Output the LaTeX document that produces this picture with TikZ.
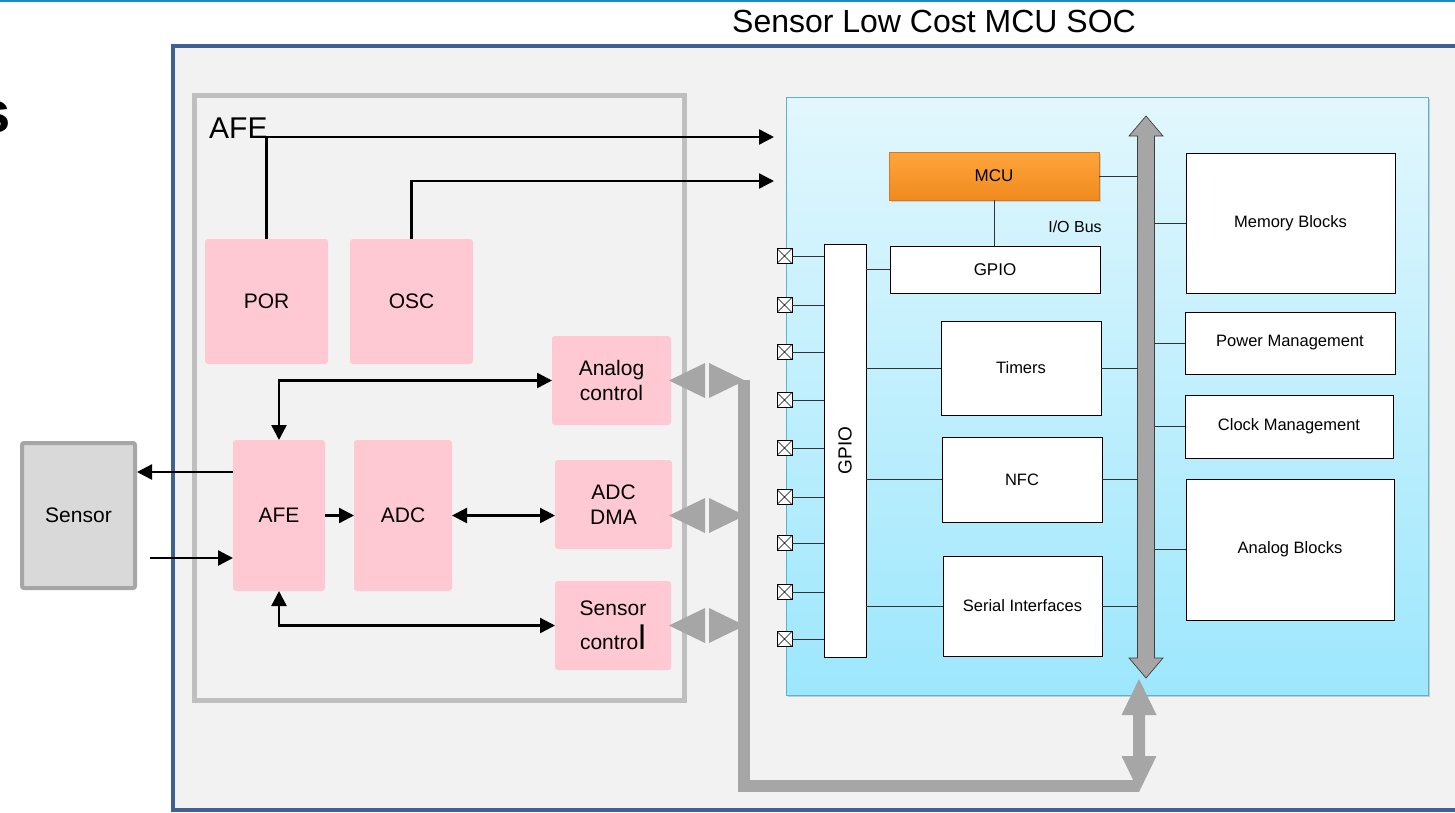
\documentclass[tikz,border=0pt]{standalone}
\usepackage{fontspec}
\setmainfont{Liberation Sans}
\usetikzlibrary{arrows.meta,calc,shadows}

\definecolor{bgfill}{HTML}{F2F2F2}
\definecolor{outerblue}{HTML}{3F6190}
\definecolor{afegray}{HTML}{BFBFBF}
\definecolor{pinkbox}{HTML}{FFC9D3}
\definecolor{sensfill}{HTML}{D9D9D9}
\definecolor{sensdraw}{HTML}{A6A6A6}
\definecolor{busgray}{HTML}{A6A6A6}
\definecolor{busedge}{HTML}{3F3F3F}
\definecolor{paneltop}{HTML}{E2F7FD}
\definecolor{panelbot}{HTML}{9DE7FD}
\definecolor{panelline}{HTML}{5AB4CF}
\definecolor{mcutop}{HTML}{FFA53C}
\definecolor{mcubot}{HTML}{F08A1E}
\definecolor{mcuedge}{HTML}{D9781A}
\definecolor{topline}{HTML}{1A8CC4}
\definecolor{wirecol}{HTML}{333333}

\newcommand\fsz[2]{\fontsize{#1}{#2}\selectfont}

\tikzset{
  pinkblk/.style={fill=pinkbox, rounded corners=3pt, inner sep=0pt, outer sep=0pt,
    align=center, font=\fsz{21}{25}},
  whiteblk/.style={draw=black, line width=0.9pt, fill=white, inner sep=0pt, outer sep=0pt,
    align=center, font=\fsz{16.5}{20}},
  arr/.style={line width=2.4pt, -{Triangle[length=15pt,width=15pt]}},
  arrboth/.style={line width=2.4pt,
    {Triangle[length=15pt,width=15pt]}-{Triangle[length=15pt,width=15pt]}},
  wire/.style={line width=0.9pt, draw=wirecol},
  pad/.style={draw=black, line width=0.8pt, fill=white, minimum size=15pt,
    inner sep=0pt, outer sep=0pt,
    path picture={\draw[line width=0.6pt]
      (path picture bounding box.north west) -- (path picture bounding box.south east)
      (path picture bounding box.south west) -- (path picture bounding box.north east);}},
}

\begin{document}
\begin{tikzpicture}[x=1pt,y=-1pt]
\useasboundingbox (0,0) rectangle (1455,812);
\fill[white] (0,0) rectangle (1455,812);

% header rule and titles
\draw[topline, line width=2pt] (0,1) -- (1455,1);
\node[anchor=base east, inner sep=0pt, font=\fsz{58}{58}\bfseries] (cut) at (11,132) {s};
\node[font=\fsz{32}{32}] (title) at (934,21) {Sensor Low Cost MCU SOC};

% SOC frame
\draw[outerblue, line width=4pt, fill=bgfill] (172.5,45.5) rectangle (1470,809.5);

% analog front end frame
\node[draw=afegray, line width=5pt, fill=bgfill, minimum width=489.5pt, minimum height=604.5pt,
      inner sep=0pt] (afebox) at (439.25,397.75) {};
\node[anchor=base west, inner sep=0pt, font=\fsz{30}{30}] (afelabel) at (209,138) {AFE};

% sensor
\node[draw=sensdraw, fill=sensfill, line width=4pt, rounded corners=2pt,
      minimum width=113pt, minimum height=145pt, inner sep=0pt, font=\fsz{21}{25}]
      (sensor) at (78.5,515.5) {Sensor};

% AFE blocks
\node[pinkblk, minimum width=123pt, minimum height=125pt] (por) at (266.5,301.5) {POR};
\node[pinkblk, minimum width=123pt, minimum height=125pt] (osc) at (411.5,301.5) {OSC};
\node[pinkblk, minimum width=119pt, minimum height=89pt] (actl) at (611.5,380.5) {Analog\\control};
\node[pinkblk, minimum width=92pt, minimum height=151pt] (afe) at (279,515.5) {AFE};
\node[pinkblk, minimum width=98pt, minimum height=151pt] (adc) at (403,515.5) {ADC};
\node[pinkblk, minimum width=117pt, minimum height=89pt] (dma) at (613.5,504.5) {ADC\\DMA};
\node[pinkblk, minimum width=116pt, minimum height=89pt] (sctl) at (613,625.5)
      {Sensor\\[9pt]contro{\fsz{34}{34}l}};

% signal arrows
\coordinate (porout) at (774,137);
\coordinate (oscout) at (774,181);
\draw[arr] (por.north) |- (porout);
\draw[arr] (osc.north) |- (oscout);
\draw[arrboth] (afe.north) |- (actl.west);
\draw[arrboth] (afe.south) |- (sctl.west);
\draw[arr] (afe.east) -- (adc.west);
\draw[arrboth] (adc.east) -- (adc.east -| dma.west);
\draw[arr] ($(afe.west)+(0,-43.5)$) -- ($(sensor.east)+(0,-43.5)$);
\draw[arr] ($(sensor.east)+(13,42.5)$) -- ($(afe.west)+(0,42.5)$);

% MCU subsystem panel
\node[draw=panelline, line width=0.8pt, top color=paneltop, bottom color=panelbot,
      minimum width=642pt, minimum height=598pt, inner sep=0pt,
      drop shadow={shadow xshift=2pt, shadow yshift=-2pt, opacity=0.35}]
      (soc) at (1107,396) {};

% wide system bus to the AFE controls
\coordinate (barTop) at (744,380);
\coordinate (barCorner) at (744,786);
\coordinate (barEnd) at (1139,786);
\draw[busgray, line width=12pt] (barTop) -- (barCorner) -- (barEnd);
\coordinate (gA) at ($(actl.east)+(-2,0)$);
\coordinate (gB) at ($(dma.east |- adc.east)+(-3,0)$);
\coordinate (gC) at ($(sctl.east)+(-2,0)$);
\foreach \c in {gA,gB,gC}{
  \fill[busgray] (\c) -- ++(36,-17.5) -- ++(0,35) -- cycle;
  \fill[busgray] ($(\c)+(40,-17.5)$) -- ++(36,17.5) -- ++(-36,17.5) -- cycle;
}
\coordinate (lowN) at (1139,679);
\coordinate (lowS) at (1139,792);
\fill[busgray] (lowN) -- ++(17.5,36) -- ++(-11.5,0) -- ($(lowS)+(6,-36)$) -- ++(11.5,0)
  -- (lowS) -- ++(-17.5,-36) -- ++(11.5,0) -- ($(lowN)+(-6,36)$) -- ++(-11.5,0) -- cycle;

% internal bus
\coordinate (busN) at (1146,116);
\coordinate (busS) at (1146,678);
\coordinate (busL) at (1137.5,400);
\coordinate (busR) at (1154.5,400);
\filldraw[fill=busgray, draw=busedge, line width=0.7pt]
  (busN) -- ++(17,20) -- ++(-8.5,0) -- ($(busS)+(8.5,-20)$) -- ++(8.5,0) -- (busS)
  -- ++(-17,-20) -- ++(8.5,0) -- ($(busN)+(-8.5,20)$) -- ++(-8.5,0) -- cycle;

% MCU and peripherals
\node[draw=mcuedge, line width=0.6pt, top color=mcutop, bottom color=mcubot,
      minimum width=210pt, minimum height=48pt, inner sep=0pt, font=\fsz{17}{20},
      drop shadow={shadow xshift=1.5pt, shadow yshift=-2pt, opacity=0.3}]
      (mcu) at (994,176) {MCU};
\node[whiteblk, minimum width=210pt, minimum height=47pt, font=\fsz{17}{20}] (hgpio) at (995,269.5) {GPIO};
\node[whiteblk, minimum width=42pt, minimum height=413pt] (vgpio) at (845,450.5) {};
\node[rotate=90, font=\fsz{19}{20}] (vgpiolabel) at (vgpio.center) {GPIO};
\node[whiteblk, minimum width=160pt, minimum height=94pt] (timers) at (1021,368) {Timers};
\node[whiteblk, minimum width=160pt, minimum height=85pt] (nfc) at (1022,479.5) {NFC};
\node[whiteblk, minimum width=159pt, minimum height=100pt] (serial) at (1022.5,606) {Serial Interfaces};
\node[whiteblk, minimum width=209pt, minimum height=140pt] (mem) at (1290.5,223) {Memory Blocks};
\node[whiteblk, minimum width=210pt, minimum height=62pt] (pwr) at (1290,343) {Power Management};
\node[whiteblk, minimum width=208pt, minimum height=63pt] (clk) at (1289,426.5) {Clock Management};
\node[whiteblk, minimum width=208pt, minimum height=141pt] (ana) at (1290,549.5) {Analog Blocks};
\node[font=\fsz{16}{18}] (iobus) at (1075,227) {I/O Bus};

% bus taps
\draw[wire] (mcu.east) -- (mcu.east -| busL);
\draw[wire] (mcu.south) -- (mcu.south |- hgpio.north);
\draw[wire] (vgpio.east |- hgpio.west) -- (hgpio.west);
\foreach \b in {timers,nfc,serial}{
  \draw[wire] (vgpio.east |- \b.west) -- (\b.west);
  \draw[wire] (\b.east) -- (\b.east -| busL);
}
\foreach \b in {mem,pwr,clk,ana}{
  \draw[wire] (busR |- \b.west) -- (\b.west);
}

% pads
\foreach \i/\y in {1/256,2/305,3/352,4/400,5/448,6/497,7/543,8/592,9/639}{
  \node[pad] (pad\i) at (784.5,\y) {};
  \draw[wire] (pad\i.east) -- (pad\i.east -| vgpio.west);
}
\end{tikzpicture}
\end{document}
